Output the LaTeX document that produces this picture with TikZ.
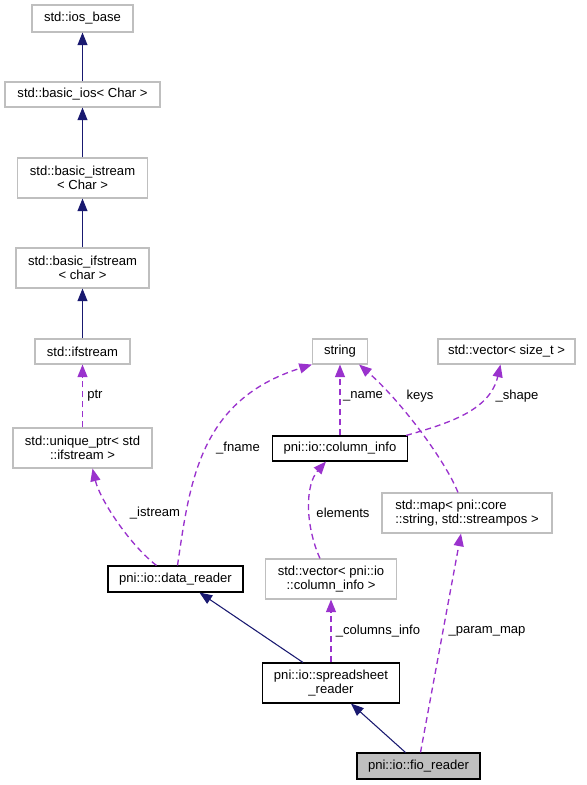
\documentclass[tikz,border=0pt]{standalone}
\usepackage{fontspec}
\setmainfont{Liberation Sans}
\usetikzlibrary{arrows.meta,calc}
\definecolor{inh}{HTML}{191970}
\definecolor{usec}{HTML}{9A32CD}
\definecolor{gb}{HTML}{BFBFBF}
\begin{document}
\begin{tikzpicture}[x=0.75pt,y=-0.75pt,
 every node/.style={font=\fontsize{9.8}{10.7}\selectfont, inner sep=0pt, align=center},
 sz/.style 2 args={minimum width=#1*0.75pt, minimum height=#2*0.75pt},
 gbox/.style={draw=gb, line width=0.8pt, fill=white},
 kbox/.style={draw=black, line width=0.8pt, fill=white},
 inhe/.style={draw=inh, line width=0.8pt, -{Triangle[length=9.5pt,width=7.5pt]}},
 usee/.style={draw=usec, line width=1pt, dash pattern=on 4.5pt off 3pt, -{Triangle[length=9.5pt,width=7.5pt]}},
 lbl/.style={font=\fontsize{9.8}{10.7}\selectfont}
]
\useasboundingbox (0,0) rectangle (586,785);
% nodes
\node[gbox, sz={101}{27}] (iosb) at (82.5,18.5) {std::ios\_base};
\node[gbox, sz={155}{25}] (bios) at (82.5,94.5) {std::basic\_ios< Char >};
\node[gbox, sz={130}{40}] (bist) at (82.5,178) {std::basic\_istream\\< Char >};
\node[gbox, sz={133}{40}] (bifs) at (82.5,268) {std::basic\_ifstream\\< char >};
\node[gbox, sz={95}{25}] (ifs) at (82.5,351.5) {std::ifstream};
\node[gbox, sz={139}{40}] (uptr) at (82.5,448) {std::unique\_ptr< std\\::ifstream >};
\node[kbox, sz={135}{26}] (dr) at (175.5,579) {pni::io::data\_reader};
\node[gbox, sz={55}{25}] (str) at (340,351.5) {string};
\node[gbox, sz={137}{25}] (vst) at (506.5,351.5) {std::vector< size\_t >};
\node[kbox, sz={135}{25}] (ci) at (340,448.5) {pni::io::column\_info};
\node[gbox, sz={170}{40}, align=left] (map) at (467,513) {std::map< pni::core\\::string, std::streampos >};
\node[gbox, sz={131}{40}] (vci) at (331,579) {std::vector< pni::io\\::column\_info >};
\node[kbox, sz={137}{40}] (ssr) at (331,683) {pni::io::spreadsheet\\\_reader};
\node[kbox, sz={123}{26}, fill=gb] (fio) at (418.5,766) {pni::io::fio\_reader};
% inheritance
\draw[inhe] (bios.north) -- (iosb.south);
\draw[inhe] (bist.north) -- (bios.south);
\draw[inhe] (bifs.north) -- (bist.south);
\draw[inhe] (ifs.north) -- (bifs.south);
\draw[inhe] ($(ssr.north)+(-28,0)$) -- ($(dr.south)+(24,0)$);
\draw[inhe] ($(fio.north)+(-13,0)$) -- ($(ssr.south)+(20,0)$);
% usage
\draw[usee] (uptr.north) -- (ifs.south);
\draw[usee] ($(dr.north)+(-19,0)$) .. controls (130,545) and (100,500) .. ($(uptr.south)+(10,0)$);
\draw[usee] ($(dr.north)+(2,0)$) .. controls (190,480) and (200,400) .. (str.south west);
\draw[usee] (ci.north) -- (str.south);
\draw[usee] ($(ci.north east)+(-2,0)$) .. controls (450,423) and (490,410) .. ($(vst.south)+(-6,0)$);
\draw[usee] ($(map.north)+(-9,0)$) .. controls (445,460) and (400,400) .. ($(str.south east)+(-9,0)$);
\draw[usee] ($(vci.north)+(-11,0)$) .. controls (305,525) and (305,485) .. ($(ci.south)+(-14,0)$);
\draw[usee] (ssr.north) -- (vci.south);
\draw[usee] ($(fio.north)+(2,0)$) -- ($(map.south)+(-6,0)$);
% labels
\node[lbl, anchor=west] (lptr) at (87,396) {ptr};
\node[lbl] (listr) at (155,513) {\_istream};
\node[lbl] (lfn) at (238,448) {\_fname};
\node[lbl] (lnm) at (363,396) {\_name};
\node[lbl] (lkeys) at (420,396) {keys};
\node[lbl] (lshp) at (517,396) {\_shape};
\node[lbl] (lel) at (343,513) {elements};
\node[lbl] (lci) at (378,631) {\_columns\_info};
\node[lbl] (lpm) at (487,631) {\_param\_map};
\end{tikzpicture}
\end{document}
